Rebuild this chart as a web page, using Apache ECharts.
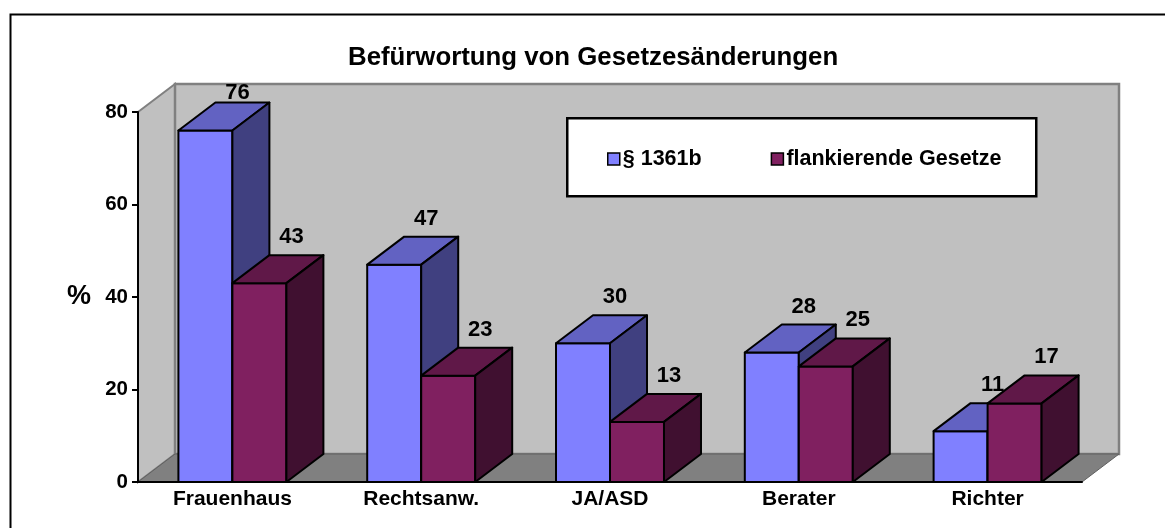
<!DOCTYPE html>
<html>
<head>
<meta charset="utf-8">
<script src="https://cdn.jsdelivr.net/npm/echarts@6/dist/echarts.min.js"></script>
<style>
html,body{margin:0;padding:0;background:#fff;}
#chart{width:1165px;height:528px;}
</style>
</head>
<body>
<div id="chart"></div>
<script>
// ---- data ----
const categories = ['Frauenhaus', 'Rechtsanw.', 'JA/ASD', 'Berater', 'Richter'];
const seriesNames = ['§ 1361b', 'flankierende Gesetze'];
const paragraph1361b = [76, 47, 30, 28, 11];
const flankierendeGesetze = [43, 23, 13, 25, 17];
const yTicks = [0, 20, 40, 60, 80];

// ---- styling ----
const FONT = '"Liberation Sans", Arial, sans-serif';
const DX = 37, DY = -28;           // 3D depth offset
const BAR_RATIO = 0.286;           // bar width relative to category width
const blueCols = { front: '#8080FF', top: '#6262C2', side: '#404080' };
const maroonCols = { front: '#802060', top: '#601848', side: '#401030' };

const chart = echarts.init(document.getElementById('chart'), null, { renderer: 'canvas' });

function wallRender(params, api) {
  const cs = params.coordSys;
  const x0 = cs.x, x1 = cs.x + cs.width, yt = cs.y, yb = cs.y + cs.height;
  return {
    type: 'group',
    children: [
      { type: 'polygon', shape: { points: [[x0, yt], [x0 + DX, yt + DY], [x0 + DX, yb + DY], [x0, yb]] },
        style: { fill: '#c0c0c0', stroke: '#808080', lineWidth: 2 } },
      { type: 'rect', shape: { x: x0 + DX, y: yt + DY, width: cs.width, height: cs.height },
        style: { fill: '#c0c0c0', stroke: '#808080', lineWidth: 2.5 } },
      { type: 'polygon', shape: { points: [[x0, yb], [x1, yb], [x1 + DX, yb + DY], [x0 + DX, yb + DY]] },
        style: { fill: '#808080', stroke: '#606060', lineWidth: 1 } }
    ]
  };
}

function makeBarRender(side, cols) {
  return function (params, api) {
    const i = api.value(0), v = api.value(1);
    const base = api.coord([i, 0]);
    const top = api.coord([i, v]);
    const cw = api.size([1, 0])[0];
    const bw = cw * BAR_RATIO;
    const x0 = side < 0 ? base[0] - bw : base[0];
    const x1 = x0 + bw;
    const yb = base[1], yt = top[1];
    const stroke = { stroke: '#000', lineWidth: 2, lineJoin: 'round' };
    const labelY = Math.max(yt - 46, params.coordSys.y - 19);
    return {
      type: 'group',
      children: [
        { type: 'rect', shape: { x: x0, y: yt, width: bw, height: yb - yt },
          style: Object.assign({ fill: cols.front }, stroke) },
        { type: 'polygon', shape: { points: [[x0, yt], [x1, yt], [x1 + DX, yt + DY], [x0 + DX, yt + DY]] },
          style: Object.assign({ fill: cols.top }, stroke) },
        { type: 'polygon', shape: { points: [[x1, yt], [x1 + DX, yt + DY], [x1 + DX, yb + DY], [x1, yb]] },
          style: Object.assign({ fill: cols.side }, stroke) },
        { type: 'text', z2: 100,
          style: { text: String(v), x: (x0 + x1) / 2 + 32, y: labelY, align: 'center', verticalAlign: 'middle',
                   font: 'bold 22px ' + FONT, fill: '#000' } }
      ]
    };
  };
}

const option = {
  backgroundColor: '#fff',
  animation: false,
  title: {
    text: 'Befürwortung von Gesetzesänderungen',
    left: 343, top: 40,
    textStyle: { fontFamily: FONT, fontWeight: 'bold', fontSize: 25.8, color: '#000' }
  },
  legend: {
    data: seriesNames,
    left: 602, top: 143,
    itemWidth: 12, itemHeight: 12, itemGap: 69,
    icon: 'rect',
    textStyle: { fontFamily: FONT, fontWeight: 'bold', fontSize: 21.5, color: '#000', padding: [0, 0, 0, -2] },
    itemStyle: { borderColor: '#000', borderWidth: 1.5 },
    z: 20
  },
  grid: { left: 138, right: 83, top: 112, bottom: 46, containLabel: false },
  xAxis: {
    type: 'category',
    data: categories,
    z: 10,
    axisLine: { lineStyle: { color: '#000', width: 2 } },
    axisTick: { show: false },
    axisLabel: { margin: 7, fontFamily: FONT, fontWeight: 'bold', fontSize: 21, color: '#000' }
  },
  yAxis: {
    type: 'value',
    min: yTicks[0], max: yTicks[yTicks.length - 1], interval: 20,
    z: 10,
    name: '%',
    nameLocation: 'middle', nameRotate: 0, nameGap: 47,
    nameTextStyle: { fontFamily: FONT, fontWeight: 'bold', fontSize: 27, color: '#000' },
    axisLine: { show: true, lineStyle: { color: '#000', width: 2 } },
    axisTick: { show: true, length: 6, lineStyle: { color: '#000', width: 2 } },
    splitLine: { show: false },
    axisLabel: { margin: 10, fontFamily: FONT, fontWeight: 'bold', fontSize: 20.5, color: '#000' }
  },
  graphic: [
    { type: 'rect', left: 8, top: 12, z: 0, silent: true,
      shape: { width: 1200, height: 560 },
      style: { fill: 'none', stroke: '#000', lineWidth: 2 } },
    { type: 'rect', left: 566, top: 117, z: 15, silent: true,
      shape: { width: 469, height: 78 },
      style: { fill: '#fff', stroke: '#000', lineWidth: 2.5 } }
  ],
  series: [
    { type: 'custom', name: '_walls', silent: true, z: 1,
      renderItem: wallRender, data: [[0, 0]], encode: { x: 0, y: 1 } },
    { type: 'custom', name: seriesNames[0], z: 2,
      itemStyle: { color: blueCols.front, borderColor: '#000', borderWidth: 1.5 },
      renderItem: makeBarRender(-1, blueCols),
      data: categories.map((c, i) => [i, paragraph1361b[i]]), encode: { x: 0, y: 1 } },
    { type: 'custom', name: seriesNames[1], z: 3,
      itemStyle: { color: maroonCols.front, borderColor: '#000', borderWidth: 1.5 },
      renderItem: makeBarRender(1, maroonCols),
      data: categories.map((c, i) => [i, flankierendeGesetze[i]]), encode: { x: 0, y: 1 } }
  ]
};
chart.setOption(option);
</script>
</body>
</html>
